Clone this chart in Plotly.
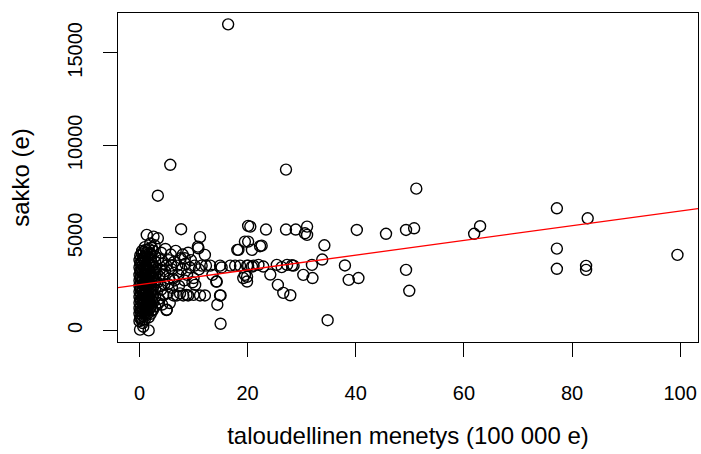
import plotly.graph_objects as go

# financial loss (100 000 e) and fine (e)
menetys = [
    0.1, 0.7, 1.7,
    0.0, 0.0, 0.0, 0.0, 0.0, 0.0, 0.0, 0.0, 0.0, 0.0, 0.0,
    0.3, 0.3, 0.3, 0.3, 0.3, 0.3, 0.3, 0.3, 0.3, 0.3,
    0.6, 0.6, 0.6, 0.6, 0.6, 0.6, 0.6, 0.6, 0.6, 0.6, 0.6, 0.6,
    1.0, 1.0, 1.0, 1.0, 1.0, 1.0, 1.0, 1.0, 1.0, 1.0, 1.0, 1.0,
    1.3, 1.3, 1.3, 1.3, 1.3, 1.3, 1.3, 1.3, 1.3,
    1.7, 1.7, 1.7, 1.7, 1.7, 1.7, 1.7, 1.7, 1.7, 1.7, 1.7, 1.7,
    2.1, 2.1, 2.1, 2.1, 2.1, 2.1, 2.1, 2.1, 2.1, 2.1,
    2.5, 2.5, 2.5, 2.5, 2.5, 2.5, 2.5, 2.5,
    2.9, 2.9, 2.9, 2.9, 2.9, 2.9, 2.9, 2.9,
    0.15, 0.15, 0.15, 0.15, 0.15, 0.15, 0.15, 0.15,
    0.45, 0.45, 0.45, 0.45, 0.45, 0.45, 0.45, 0.45,
    0.8, 0.8, 0.8, 0.8, 0.8, 0.8, 0.8, 0.8,
    1.15, 1.15, 1.15, 1.15, 1.15, 1.15, 1.15,
    1.5, 1.5, 1.5, 1.5, 1.5, 1.5, 1.5,
    1.9, 1.9, 1.9, 1.9, 1.9, 1.9,
    2.3, 2.3, 2.3, 2.3, 2.3, 2.3,
    1.35, 2.6, 3.4, 0.5, 1.0, 2.0, 2.8,
    3.4, 5.7,
    3.3, 3.5, 3.6, 3.8, 4.0, 4.0, 4.2, 4.3, 4.5, 4.6, 4.8, 5.0, 5.0, 5.2,
    5.4, 5.5, 5.6, 5.8, 6.0, 6.0, 6.3, 6.4, 6.5, 6.7, 6.9, 7.0, 7.2, 7.3,
    7.6, 7.7, 7.8, 8.0, 8.1, 8.3, 8.5, 8.7, 8.8, 9.0, 9.0, 9.3, 9.5, 9.8,
    10.0, 10.0, 10.2, 10.3, 10.8, 10.9, 11.0, 11.2, 11.2, 11.5, 12.1, 12.1,
    12.3, 5.05,
    3.2, 3.7, 4.1, 4.4, 3.9, 4.7, 3.4, 5.3, 5.9, 6.2, 7.5, 8.4,
    13.1, 14.9, 15.2, 16.8, 17.7, 18.6, 19.9, 14.2, 14.9, 15.0, 14.4, 15.0,
    18.1, 18.3, 19.5, 19.2, 19.5, 16.4, 20.1, 13.5, 14.3,
    20.5, 23.4, 27.1, 28.9, 31.0, 30.6, 31.0, 34.2, 20.1, 20.8, 22.3, 22.6,
    33.8, 31.9, 20.1, 21.1, 22.0, 22.9, 25.4, 26.3, 27.3, 28.5, 24.2, 30.3,
    32.0, 19.9, 19.9, 25.6, 26.6, 27.9, 34.8, 27.1, 20.8, 28.2,
    38.0, 38.7, 40.5, 40.2, 45.6, 49.3, 50.8, 51.2, 49.3, 49.9,
    61.9, 63.0, 77.2, 77.2, 77.2, 82.9, 82.6, 82.6, 99.5,
]
sakko = [
    40, 200, 0,
    500, 900, 1200, 1500, 1800, 2100, 2400, 2700, 3000, 3400, 3800,
    700, 1000, 1300, 1600, 2000, 2300, 2600, 2900, 3200, 3600,
    400, 800, 1100, 1400, 1700, 1900, 2200, 2500, 2800, 3100, 3500, 3900,
    600, 900, 1200, 1500, 1800, 2000, 2300, 2600, 3000, 3300, 3700, 4000,
    1000, 1300, 1700, 2100, 2400, 2800, 3200, 3500, 4200,
    700, 1100, 1400, 1600, 1900, 2200, 2600, 2900, 3300, 3600, 3900, 4400,
    900, 1300, 1700, 2000, 2400, 2700, 3100, 3400, 3800, 4100,
    1100, 1500, 1900, 2300, 2800, 3200, 3500, 4300,
    1300, 1800, 2200, 2600, 3000, 3400, 3700, 4000,
    650, 1050, 1650, 2250, 2850, 3250, 3650, 4050,
    550, 1150, 1750, 2150, 2750, 3350, 3750, 4150,
    1000, 1550, 2050, 2450, 2950, 3400, 3850, 4250,
    800, 1350, 1950, 2500, 3150, 3550, 4350,
    900, 1250, 1800, 2350, 2750, 3050, 4000,
    1200, 1550, 2500, 3000, 3500, 4200,
    1100, 1600, 2200, 2900, 3650, 4450,
    5160, 5070, 4980, 4300, 4500, 4700, 4600,
    7280, 8950,
    2600, 3900, 1700, 3300, 2200, 4200, 1400, 3600, 3000, 2500, 4400, 3500, 1100, 2000,
    3800, 2800, 1480, 4100, 3300, 2300, 1890, 3700, 2700, 4300, 1890, 3500, 3000, 2400,
    3900, 5470, 3300, 4100, 1890, 2700, 3600, 1920, 3000, 1890, 4200, 3400, 3800, 2600,
    1920, 2830, 3500, 2460, 4530, 4440, 3300, 5040, 1890, 3500, 4080, 1890,
    3500, 1120,
    3100, 2900, 3800, 1900, 2400, 3200, 1500, 2500, 3500, 2800, 2000, 3900,
    3500, 3500, 3400, 3500, 3500, 3500, 3500, 2640, 1890, 1890, 1390, 360,
    4350, 4350, 4800, 2830, 3000, 16540, 5650, 3000, 2640,
    5610, 5450, 5450, 5450, 5610, 5250, 5160, 4600, 4800, 4350, 4550, 4580,
    3830, 3540, 3500, 3500, 3540, 3450, 3540, 3420, 3540, 3500, 3020, 3000,
    2830, 2900, 2640, 2460, 2030, 1900, 550, 8690, 3450, 3520,
    3510, 2730, 2830, 5430, 5220, 5430, 5520, 7660, 3270, 2140,
    5220, 5630, 6600, 4420, 3330, 6060, 3490, 3270, 4080,
]

# regression line coefficients
intercept = 2475.0
slope = 39.8

x_ticks = [0, 20, 40, 60, 80, 100]
y_ticks = [0, 5000, 10000, 15000]
x_range = [-3.97, 103.3]
y_range = [-626, 17152]

font = "Liberation Sans, Arial, sans-serif"

fig = go.Figure()
fig.add_trace(go.Scatter(
    x=menetys, y=sakko, mode="markers",
    marker=dict(symbol="circle-open", size=11, color="black", line=dict(width=1.4)),
    showlegend=False, hoverinfo="x+y",
))
fig.add_trace(go.Scatter(
    x=x_range, y=[intercept + slope * v for v in x_range], mode="lines",
    line=dict(color="red", width=1.3), showlegend=False,
))

fig.update_layout(
    width=701, height=454, autosize=False,
    margin=dict(l=118, r=3, t=13, b=112, autoexpand=False),
    paper_bgcolor="white", plot_bgcolor="white",
    font=dict(family=font, size=20, color="black"),
)
fig.update_xaxes(
    range=x_range, tickvals=x_ticks, ticktext=[str(v) for v in x_ticks],
    automargin=False,
    showgrid=False, zeroline=False, showline=True, mirror=True,
    linecolor="black", linewidth=1.3, ticks="outside", ticklen=14,
    tickwidth=1.3, tickcolor="black", ticklabelstandoff=19,
    title=dict(text="taloudellinen menetys (100 000 e)", standoff=24),
)
fig.update_yaxes(
    range=y_range, tickvals=y_ticks, ticktext=[str(v) for v in y_ticks],
    tickangle=-90, automargin=False,
    showgrid=False, zeroline=False, showline=True, mirror=True,
    linecolor="black", linewidth=1.3, ticks="outside", ticklen=14,
    tickwidth=1.3, tickcolor="black", ticklabelstandoff=13,
    title=dict(text="sakko (e)", standoff=27),
)

fig.write_html(
    "out.html",
    config={"responsive": False, "displayModeBar": False},
    post_script="document.body.style.margin='0';document.body.style.overflow='hidden';",
)
